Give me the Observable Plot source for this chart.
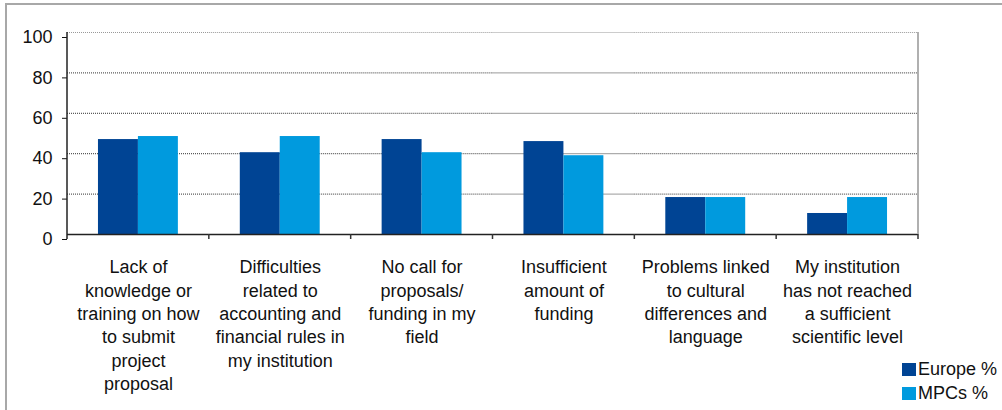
<!DOCTYPE html>
<html><head><meta charset="utf-8">
<script src="https://cdn.jsdelivr.net/npm/d3@7"></script>
<script src="https://cdn.jsdelivr.net/npm/@observablehq/plot@0.6"></script>
<style>
body{margin:0;background:#fff;font-family:"Liberation Sans",Arial,sans-serif;}
#wrap{position:relative;width:1002px;height:410px;overflow:hidden;background:#fff;}
#border{position:absolute;left:5px;top:3px;width:1100px;height:500px;border-top:2px solid #a8a8a8;border-left:2px solid #a8a8a8;z-index:2;}
#chart{position:absolute;left:0;top:0;}
#legend{position:absolute;left:902px;top:357px;font-size:18px;color:#111;z-index:3;}
.item{display:flex;align-items:center;height:24px;}
.sw{width:14px;height:13px;margin-right:2px;}
</style></head><body>
<div id="wrap"><div id="chart"></div><div id="border"></div><div id="legend"></div></div>
<script>
const categories = [
  "Lack of\nknowledge or\ntraining on how\nto submit\nproject\nproposal",
  "Difficulties\nrelated to\naccounting and\nfinancial rules in\nmy institution",
  "No call for\nproposals/\nfunding in my\nfield",
  "Insufficient\namount of\nfunding",
  "Problems linked\nto cultural\ndifferences and\nlanguage",
  "My institution\nhas not reached\na sufficient\nscientific level"
];
const series = ["Europe %", "MPCs %"];
const europeValues = [47, 40.5, 47, 46, 18.3, 10.4];
const mpcValues = [48.5, 48.5, 40.5, 39, 18.3, 18.3];
const yTicks = [0, 20, 40, 60, 80, 100];
const colors = ["#004494", "#009ADE"];

const data = categories.flatMap((c, i) => [
  {category: c, series: series[0], value: europeValues[i]},
  {category: c, series: series[1], value: mpcValues[i]}
]);

const fig = Plot.plot({
  width: 1002, height: 410,
  marginLeft: 67, marginRight: 84, marginTop: 32, marginBottom: 176,
  style: {fontFamily: '"Liberation Sans", Arial, sans-serif', fontSize: "18px", color: "#111", background: "transparent"},
  fx: {domain: categories, padding: 0, round: false, label: null},
  x: {domain: series, paddingInner: 0, paddingOuter: 0.775, round: false, axis: null},
  y: {domain: [0, 100], label: null},
  color: {domain: series, range: colors},
  marks: [
    Plot.gridY(yTicks.slice(1, 5), {stroke: "#333", strokeOpacity: 1, strokeDasharray: "1,1"}),
    Plot.gridY(yTicks.slice(5), {stroke: "#999", strokeOpacity: 1, strokeDasharray: "1,1"}),
    Plot.barY(data, {fx: "category", x: "series", y: "value", fill: "series"}),
    Plot.ruleY([0], {stroke: "#222", strokeWidth: 1.5}),
    Plot.axisY(yTicks, {tickSize: 5, tickPadding: 10, fontSize: 18, dy: 5, label: null}),
    Plot.axisFx({anchor: "bottom", tickSize: 0, tickPadding: 22, fontSize: 18, lineHeight: 1.3, label: null})
  ]
});
document.getElementById("chart").appendChild(fig);

const fx = fig.scale("fx"), y = fig.scale("y");
const svg = d3.select(fig);
const y0 = y.apply(0), y100 = y.apply(100);
const edges = categories.map(c => fx.apply(c)).concat([fx.apply(categories[categories.length - 1]) + fx.bandwidth]);
const g = svg.append("g");
g.append("line").attr("x1", edges[edges.length - 1]).attr("x2", edges[edges.length - 1])
  .attr("y1", y100).attr("y2", y0).attr("stroke", "#b0b0b0").attr("stroke-width", 2);
g.append("line").attr("x1", edges[0]).attr("x2", edges[0])
  .attr("y1", y100).attr("y2", y0 + 5).attr("stroke", "#222").attr("stroke-width", 1.5);
edges.slice(1).forEach(e => {
  g.append("line").attr("x1", e).attr("x2", e).attr("y1", y0).attr("y2", y0 + 5)
    .attr("stroke", "#333").attr("stroke-width", 1.5);
});

const legend = d3.select("#legend");
series.forEach((s, i) => {
  const it = legend.append("div").attr("class", "item");
  it.append("div").attr("class", "sw").style("background", colors[i]);
  it.append("span").text(s);
});
</script>
</body></html>
